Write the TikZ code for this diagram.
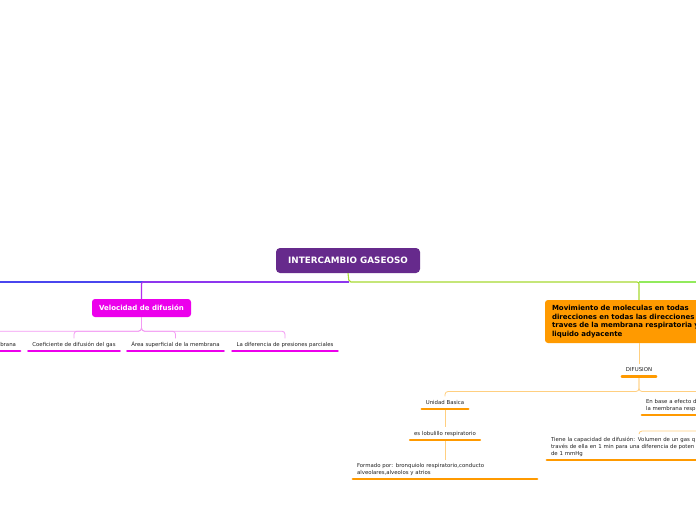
\documentclass[tikz,border=0pt]{standalone}
\usepackage{fontspec}
\setmainfont{DejaVu Sans}
\usepackage{tikz}
\usetikzlibrary{arrows.meta,positioning}
\definecolor{rootc}{HTML}{662A8C}
\definecolor{velc}{HTML}{EC00EC}
\definecolor{velline}{HTML}{B22EEE}
\definecolor{vellite}{HTML}{F39AF3}
\definecolor{movc}{HTML}{FF9A00}
\definecolor{movlite}{HTML}{FFCF80}
\definecolor{limec}{HTML}{A6DA30}
\definecolor{grnc}{HTML}{92EA5C}
\definecolor{bluc}{HTML}{4A46EE}
\definecolor{ink}{HTML}{222222}
\tikzset{
  topic/.style={fill=rootc, rounded corners=4pt, text=white, align=center,
                font=\fontsize{8.8}{10}\selectfont\bfseries, minimum width=144pt, minimum height=25pt},
  sub/.style={fill=velc, rounded corners=3pt, text=white, align=center,
              font=\fontsize{7}{8.5}\selectfont\bfseries, minimum width=99pt, minimum height=18pt},
  subo/.style={fill=movc, rounded corners=3pt, text=black, align=left, inner xsep=7pt,
               font=\fontsize{7}{8.5}\selectfont\bfseries, minimum height=43pt},
  leaf/.style={anchor=south, inner xsep=4pt, inner ysep=3.5pt, text=ink,
               font=\fontsize{5.4}{7}\selectfont, text height=4pt, text depth=1.2pt},
  leafm/.style={anchor=south, inner xsep=4pt, inner ysep=3pt, text=ink, align=left,
                font=\fontsize{5.4}{7}\selectfont},
  mbar/.style={line width=2.3pt, line cap=round, draw=velc},
  obar/.style={line width=2.3pt, line cap=round, draw=movc},
  br/.style={line width=1.1pt, rounded corners=2pt},
  ln/.style={line width=0.8pt, rounded corners=3pt},
}
\begin{document}
\begin{tikzpicture}[x=1pt, y=-1pt]
  \useasboundingbox (0,0) rectangle (696,520);
  \clip (0,0) rectangle (696,520);
  \fill[white] (0,0) rectangle (696,520);

  % main topic and first level
  \node[topic] (root) at (348,260.5) {INTERCAMBIO GASEOSO};
  \node[sub] (vel) at (141.5,308) {Velocidad de difusión};
  \node[subo, text width=174pt] (mov) at (639,321.5)
       {Movimiento de moleculas en todas\\direcciones en todas las direcciones a\\traves de la membrana respiratoria y\\liquido adyacente};
  \coordinate (hub) at (349,282);
  \coordinate (lft) at (-10,282);
  \coordinate (rgt) at (710,282);

  \draw[br, draw=bluc] (hub) -- (lft);
  \draw[br, draw=velline] (hub) -| (vel.north);
  \draw[br, draw=limec] (root.south) -- (hub) -| (mov.north);
  \draw[br, draw=grnc] (mov.north |- hub) -- (rgt);

  % velocidad de difusion
  \node[leaf, text width=70pt, align=right] (esp) at (-19,351) {brana};
  \node[leaf] (coef) at (74,351) {Coeficiente de difusión del gas};
  \node[leaf] (area) at (175.5,351) {Área superficial de la membrana};
  \node[leaf] (dpp) at (285,351) {La diferencia de presiones parciales};
  \foreach \n in {esp,coef,area,dpp}
    \draw[ln, draw=vellite] (vel.south) -- ++(0,14) -| (\n.north);
  \foreach \n in {esp,coef,area,dpp}
    \draw[mbar] (\n.south west) -- (\n.south east);

  % difusion
  \node[leaf] (difu) at (639,376.5) {DIFUSION};
  \node[leaf] (ub) at (445,409) {Unidad Basica};
  \node[leaf] (lob) at (445,440) {es lobulillo respiratorio};
  \node[leafm, text width=176pt] (form) at (445,479)
       {Formado por: bronquiolo respiratorio,conducto\\alveolares,alveolos y atrios};
  \node[leafm, text width=130pt] (enb) at (711,415)
       {En base a efecto d\\la membrana resp};
  \node[leafm, text width=176pt] (tie) at (639,460)
       {Tiene la capacidad de difusión: Volumen de un gas q\\través de ella en 1 min para una diferencia de poten\\de 1 mmHg};

  \draw[ln, draw=movlite] (mov.south) -- (difu.north);
  \draw[ln, draw=movlite] (difu.south) -- ++(0,15) -| (ub.north);
  \draw[ln, draw=movlite] (difu.south) -- ++(0,15) -| (enb.north);
  \draw[ln, draw=movlite] (ub.south) -- (lob.north);
  \draw[ln, draw=movlite] (lob.south) -- (form.north);
  \draw[ln, draw=movlite] (enb.south) -- ++(0,16) -| (tie.north);
  \foreach \n in {difu,ub,lob,form,enb,tie}
    \draw[obar] (\n.south west) -- (\n.south east);
\end{tikzpicture}
\end{document}
